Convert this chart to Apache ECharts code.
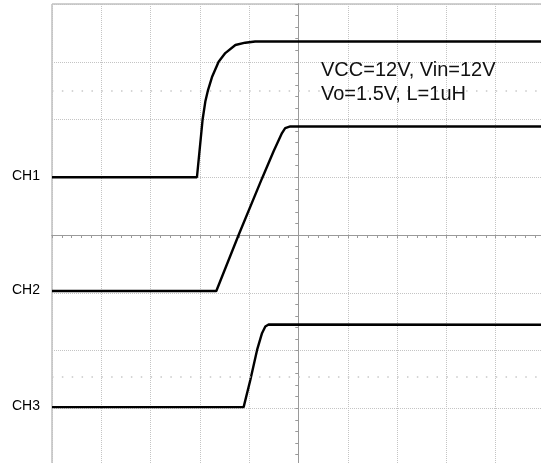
<!DOCTYPE html>
<html>
<head>
<meta charset="utf-8">
<script src="https://cdn.jsdelivr.net/npm/echarts@6/dist/echarts.min.js"></script>
<style>
html,body{margin:0;padding:0;background:#fff;overflow:hidden;width:541px;height:463px;}
#c{width:560px;height:480px;}
</style>
</head>
<body>
<div id="c"></div>
<script>
// time in divisions relative to screen centre, voltage in divisions relative to centre
const ch1X = [-5, -2.06, -1.945, -1.89, -1.835, -1.75, -1.62, -1.485, -1.28, -1.08, -0.88, 5];
const ch1Y = [1.0, 1.0, 2.0, 2.31, 2.51, 2.745, 3.0, 3.15, 3.29, 3.33, 3.35, 3.35];
const ch2X = [-5, -1.667, -1.215, -0.74, -0.505, -0.335, -0.27, -0.166, 5];
const ch2Y = [-0.97, -0.97, 0.0, 0.98, 1.45, 1.765, 1.85, 1.88, 1.88];
const ch3X = [-5, -1.113, -0.977, -0.84, -0.74, -0.673, -0.606, 5];
const ch3Y = [-2.98, -2.98, -2.51, -1.99, -1.70, -1.585, -1.55, -1.555];
const channelNames = ['CH1', 'CH2', 'CH3'];
const markerRows = [2.5, -2.45];
const noteLines = ['VCC=12V, Vin=12V', 'Vo=1.5V, L=1uH'];

const chart = echarts.init(document.getElementById('c'), null, {renderer: 'canvas'});
const gridCol = '#c4c4c4';
const axisCol = '#9a9a9a';
const FONT = 'Liberation Sans, Arial, sans-serif';

function pairs(xs, ys){ return xs.map((x,i)=>[x, ys[i]]); }

function traceSeries(name, xs, ys, extra){
  const s = {
    type: 'line', name: name, data: pairs(xs, ys), showSymbol: false, symbol: 'none',
    clip: false, animation: false, silent: true,
    lineStyle: {color: '#000', width: 2.4},
    markPoint: {
      silent: true, animation: false,
      symbol: 'circle', symbolSize: 0,
      label: {show: true, position: 'left', distance: 12, offset: [0, -1],
              color: '#000', fontSize: 14, fontFamily: FONT, formatter: name},
      data: [{coord: [xs[0], ys[0]]}]
    }
  };
  return Object.assign(s, extra || {});
}

function xAxisDef(inside, split){
  return {
    type: 'value', min: -5, max: 5, interval: 1,
    axisLine: {show: true, onZero: true, lineStyle: {color: axisCol, width: 1}},
    axisTick: {show: true, inside: inside, length: 3, lineStyle: {color: axisCol}},
    minorTick: {show: true, splitNumber: 5, length: 3, lineStyle: {color: axisCol}},
    axisLabel: {show: false},
    splitLine: {show: split, lineStyle: {color: gridCol, type: 'dotted', width: 1}}
  };
}
function yAxisDef(inside, split){
  return {
    type: 'value', min: -4, max: 4, interval: 1,
    axisLine: {show: true, onZero: true, lineStyle: {color: axisCol, width: 1}},
    axisTick: {show: true, inside: inside, length: 3, lineStyle: {color: axisCol}},
    minorTick: {show: true, splitNumber: 5, length: 3, lineStyle: {color: axisCol}},
    axisLabel: {show: false},
    splitLine: {show: split, lineStyle: {color: gridCol, type: 'dotted', width: 1}}
  };
}

chart.setOption({
  backgroundColor: '#fff',
  animation: false,
  grid: {left: 52, top: 4, width: 493, height: 462, show: true, borderColor: '#a0a0a0', borderWidth: 1, containLabel: false},
  xAxis: [xAxisDef(false, true), xAxisDef(true, false)],
  yAxis: [yAxisDef(false, true), yAxisDef(true, false)],
  title: {
    text: noteLines.join('\n'), left: 316, top: 53,
    textStyle: {fontSize: 20, fontWeight: 'normal', lineHeight: 24, color: '#111', fontFamily: FONT}
  },
  series: [
    traceSeries(channelNames[0], ch1X, ch1Y, {
      markLine: {
        silent: true, symbol: 'none', animation: false, label: {show: false},
        lineStyle: {color: '#c8c8c8', type: [1.5, 8.36], width: 1.5},
        data: markerRows.map(v => ({yAxis: v}))
      }
    }),
    traceSeries(channelNames[1], ch2X, ch2Y),
    traceSeries(channelNames[2], ch3X, ch3Y)
  ]
});
</script>
</body>
</html>
